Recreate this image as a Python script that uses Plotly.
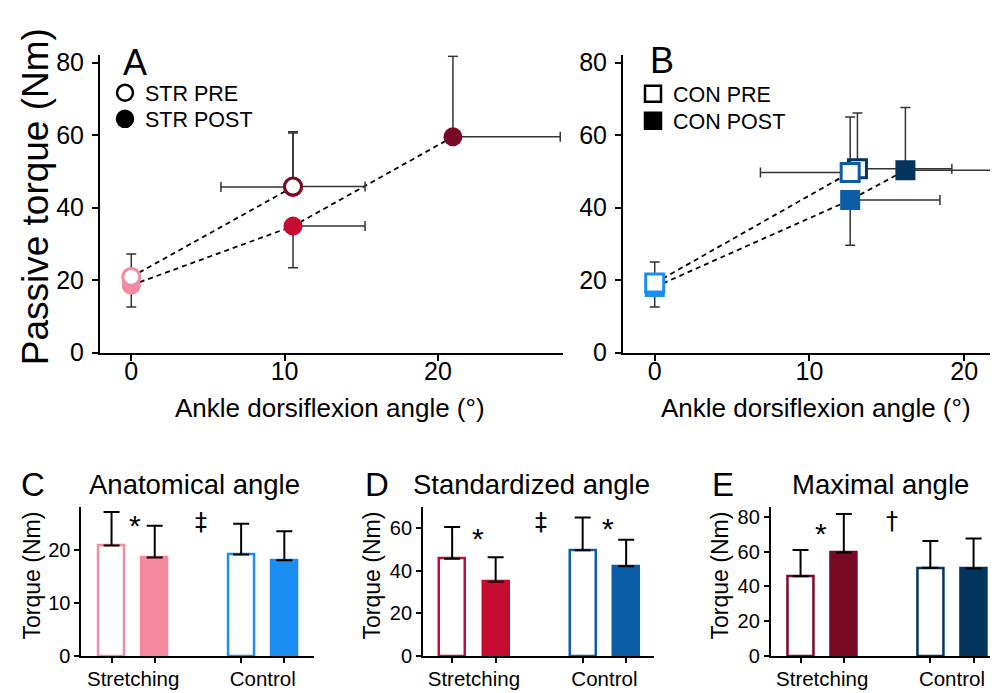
import plotly.graph_objects as go

# ---------------- data ----------------
angle_conditions = ["Anatomical angle", "Standardized angle", "Maximal angle"]
group_labels = ["Stretching", "Control"]
legend_str = ["STR PRE", "STR POST"]
legend_con = ["CON PRE", "CON POST"]

# passive torque (Nm) at anatomical / standardized / maximal angle
str_pre_torque = [20.9, 45.7, 45.8]
str_pre_sd = [6.3, 14.9, 15.1]
str_post_torque = [18.6, 34.9, 59.5]
str_post_sd = [6.0, 11.5, 22.2]
con_pre_torque = [19.2, 49.7, 50.7]
con_pre_sd = [5.8, 15.3, 15.4]
con_post_torque = [18.1, 42.1, 50.3]
con_post_sd = [5.5, 12.5, 17.3]

# ankle dorsiflexion angle (deg)
str_pre_angle = [0, 10.55, 10.55]
str_pre_angle_sd = [0, 4.7, 4.7]
str_post_angle = [0, 10.55, 20.98]
str_post_angle_sd = [0, 4.7, 7.0]
con_pre_angle = [0, 12.63, 13.1]
con_pre_angle_sd = [0, 5.8, 6.1]
con_post_angle = [0, 12.63, 16.2]
con_post_angle_sd = [0, 5.8, 5.9]

# ---------------- style ----------------
W, H = 998, 693
FONT = "Liberation Sans, Arial, sans-serif"
STR_COLORS = ["#F4899F", "#C60C30", "#7A0A24"]
CON_COLORS = ["#1C8EF2", "#0B5EA6", "#04355F"]
ERR = "#333333"


def px(v):
    return v / W


def py(v):
    return 1 - v / H


fig = go.Figure()

# error-bar directions (up, down, left, right) per condition
PRE_FLAGS = [(1, 0, 0, 0), (1, 0, 1, 0), (1, 0, 0, 1)]
POST_FLAGS = [(0, 1, 0, 0), (0, 1, 0, 1), (1, 0, 0, 1)]


def add_point(ax, x, y, xsd, ysd, color, symbol, filled, flags, size):
    up, down, left, right = flags
    fig.add_trace(go.Scatter(
        x=[x], y=[y], mode="markers", xaxis="x" + ax, yaxis="y" + ax,
        showlegend=False, hoverinfo="skip",
        marker=dict(symbol=symbol, size=size,
                    color=color if filled else "white",
                    line=dict(color=color, width=0 if filled else 3)),
        error_y=dict(type="data", symmetric=False, array=[ysd * up],
                     arrayminus=[ysd * down], color=ERR, thickness=1.5, width=5),
        error_x=dict(type="data", symmetric=False, array=[xsd * right],
                     arrayminus=[xsd * left], color=ERR, thickness=1.5, width=5,
                     visible=bool(left or right)),
    ))


def add_lines(ax, pre_a, pre_t, post_a, post_t):
    for xs, ys in [(pre_a[:2], pre_t[:2]), (post_a, post_t)]:
        fig.add_trace(go.Scatter(x=xs, y=ys, mode="lines",
                                 xaxis="x" + ax, yaxis="y" + ax, showlegend=False,
                                 hoverinfo="skip",
                                 line=dict(color="black", width=1.8, dash="5px,4px")))


# ---- Panel A ----
add_lines("", str_pre_angle, str_pre_torque, str_post_angle, str_post_torque)
for i in range(3):
    add_point("", str_post_angle[i], str_post_torque[i], str_post_angle_sd[i],
              str_post_sd[i], STR_COLORS[i], "circle", True, POST_FLAGS[i], 19)
    add_point("", str_pre_angle[i], str_pre_torque[i], str_pre_angle_sd[i],
              str_pre_sd[i], STR_COLORS[i], "circle", False, PRE_FLAGS[i], 17)

# ---- Panel B ----
add_lines("2", con_pre_angle, con_pre_torque, con_post_angle, con_post_torque)
add_point("2", con_post_angle[0], con_post_torque[0], con_post_angle_sd[0],
          con_post_sd[0], CON_COLORS[0], "square", True, POST_FLAGS[0], 20)
add_point("2", con_pre_angle[0], con_pre_torque[0], con_pre_angle_sd[0],
          con_pre_sd[0], CON_COLORS[0], "square", False, PRE_FLAGS[0], 18)
for i in (2, 1):
    add_point("2", con_pre_angle[i], con_pre_torque[i], con_pre_angle_sd[i],
              con_pre_sd[i], CON_COLORS[i], "square", False, PRE_FLAGS[i], 18)
for i in (1, 2):
    add_point("2", con_post_angle[i], con_post_torque[i], con_post_angle_sd[i],
              con_post_sd[i], CON_COLORS[i], "square", True, POST_FLAGS[i], 20)

# ---- legends (one legend box per entry for exact spacing) ----
leg_specs = [
    (legend_str[0], False, "circle", "legend", "", 97, 59),
    (legend_str[1], True, "circle", "legend2", "", 97, 86),
    (legend_con[0], False, "square", "legend3", "2", 625, 60),
    (legend_con[1], True, "square", "legend4", "2", 625, 88),
]
leg_layout = {}
for name, filled, sym, lg, ax, lx, ly in leg_specs:
    fig.add_trace(go.Scatter(x=[None], y=[None], mode="markers", name=name,
                             legend=lg, xaxis="x" + ax, yaxis="y" + ax,
                             marker=dict(symbol=sym, size=16,
                                         color="black" if filled else "white",
                                         line=dict(color="black", width=2.5))))
    leg_layout[lg] = dict(x=px(lx), y=py(ly), xanchor="left", yanchor="top",
                          font=dict(size=21.5, family=FONT, color="black"),
                          bgcolor="rgba(0,0,0,0)", itemsizing="trace",
                          itemwidth=30)

# ---- Panels C, D, E (bars) ----
for k in range(3):
    ax = str(k + 3)
    vals = [str_pre_torque[k], str_post_torque[k], con_pre_torque[k], con_post_torque[k]]
    sds = [str_pre_sd[k], str_post_sd[k], con_pre_sd[k], con_post_sd[k]]
    sc, cc = STR_COLORS[k], CON_COLORS[k]
    fig.add_trace(go.Bar(
        x=[0, 1, 3, 4], y=vals, width=0.6, xaxis="x" + ax, yaxis="y" + ax,
        showlegend=False, hoverinfo="skip",
        marker=dict(color=["white", sc, "white", cc],
                    line=dict(color=[sc, sc, cc, cc], width=2.5)),
        error_y=dict(type="data", symmetric=False, array=sds,
                     arrayminus=[0, 0, 0, 0], color="black", thickness=2, width=8),
    ))

# ---------------- axes ----------------
common = dict(showline=True, linecolor="black", linewidth=2, ticks="outside",
              ticklen=6, tickwidth=2, tickcolor="black", showgrid=False,
              zeroline=False, color="black")
big_tick = dict(size=25, family=FONT, color="black")
small_tick = dict(size=20, family=FONT, color="black")

yA_dom = [py(348.3), py(41.5)]
yC_dom = [py(661), py(507.7)]

layout_axes = dict(
    xaxis=dict(domain=[px(92), px(555)], range=[-2.04, 28.16], anchor="y",
               tickvals=[0, 10, 20], tickfont=big_tick, ticklabelstandoff=-11,
               **common),
    yaxis=dict(domain=yA_dom, range=[0, 82], anchor="x",
               tickvals=[0, 20, 40, 60, 80], tickfont=big_tick,
               ticklabelstandoff=3, **common),
    xaxis2=dict(domain=[px(615), 1.0], range=[-2.05, 22.7], anchor="y2",
                tickvals=[0, 10, 20], tickfont=big_tick, ticklabelstandoff=-11,
                **common),
    yaxis2=dict(domain=yA_dom, range=[0, 82], anchor="x2",
                tickvals=[0, 20, 40, 60, 80], tickfont=big_tick,
                ticklabelstandoff=3, **common),
)
bar_x = [([73.3, 305.7], [-0.70, 4.68]), ([415, 646], [-0.67, 4.64]),
         ([762.7, 995], [-0.69, 4.68])]
bar_y = [([0, 28.1], [0, 10, 20]), ([0, 69.8], [0, 20, 40, 60]),
         ([0, 85.5], [0, 20, 40, 60, 80])]
for k in range(3):
    n = str(k + 3)
    c2 = dict(common)
    c2.update(linewidth=1.8, ticklen=5, tickwidth=1.8)
    layout_axes["xaxis" + n] = dict(
        domain=[px(bar_x[k][0][0]), px(bar_x[k][0][1])], range=bar_x[k][1],
        anchor="y" + n, tickvals=[0.5, 3.5], ticktext=group_labels,
        tickfont=dict(size=20.5, family=FONT, color="black"),
        **{**c2, "ticks": "", "ticklen": 0},
        minor=dict(tickvals=[0, 1, 3, 4], ticks="outside", ticklen=5,
                   tickwidth=1.8, tickcolor="black"),
        ticklabelstandoff=4,
    )
    layout_axes["yaxis" + n] = dict(
        domain=yC_dom, range=bar_y[k][0], anchor="x" + n,
        tickvals=bar_y[k][1], tickfont=small_tick, **c2)

# ---------------- annotations ----------------
ann = []


def text(t, x, y, size, angle=0, family=FONT):
    ann.append(dict(text=t, x=px(x), y=py(y), xref="paper", yref="paper",
                    showarrow=False, textangle=angle, xanchor="center",
                    yanchor="middle", font=dict(size=size, family=family, color="black")))


text("Passive torque (Nm)", 27, 188, 37, -90)
text("Ankle dorsiflexion angle (°)", 322, 405, 26)
text("Ankle dorsiflexion angle (°)", 808, 405, 26)
text("A", 127.5, 49, 36)
text("B", 654, 46.5, 36)
for letter, lx in zip(["C", "D", "E"], [25, 369, 715]):
    text(letter, lx, 484, 33)
for title, tx in zip(angle_conditions, [186.7, 523, 872.5]):
    text(title, tx, 484, 27.5)
for yx in [24, 364, 712]:
    text("Torque (Nm)", yx, 578, 23, -90)
for s, x, y in [("*", 126.7, 526), ("*", 470, 540), ("*", 600, 530),
                ("*", 813, 535)]:
    text(s, x, y, 30)
for s, x, y in [("‡", 192.8, 523), ("‡", 533, 523), ("†", 883.5, 522)]:
    text(s, x, y, 24, family="DejaVu Sans")

fig.update_layout(
    width=W, height=H, margin=dict(l=0, r=0, t=0, b=0),
    paper_bgcolor="white", plot_bgcolor="white",
    font=dict(family=FONT, color="black"),
    bargap=0, annotations=ann,
    **leg_layout,
    **layout_axes,
)

fig.write_html("out.html")
